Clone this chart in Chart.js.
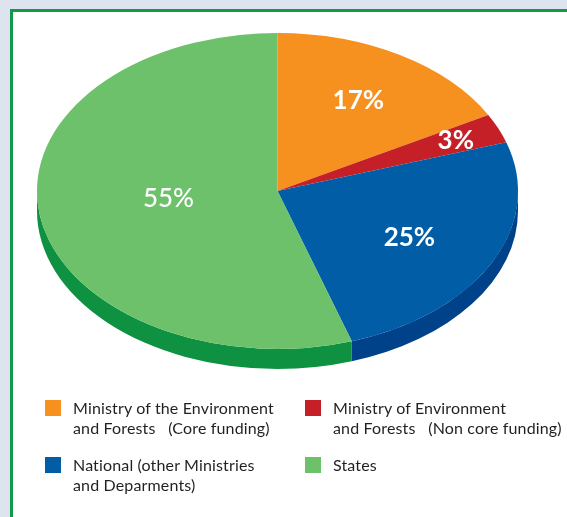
<!DOCTYPE html>
<html>
<head>
<meta charset="utf-8">
<script src="https://cdn.jsdelivr.net/npm/chart.js@4"></script>
<style>
  html, body { margin: 0; padding: 0; }
  body {
    width: 567px; height: 517px; position: relative; overflow: hidden;
    background: #dee4ef; font-family: Lato, "Open Sans", sans-serif;
  }
  #frame {
    position: absolute; left: 10px; top: 9px; width: 620px; height: 620px;
    border: 3px solid #12994a; background: #fff;
  }
  #chart { position: absolute; left: 0; top: 0; }
  .item { position: absolute; width: 260px; height: 44px; }
  .box { position: absolute; left: 0; top: 2px; width: 16px; height: 16px; }
  .txt {
    position: absolute; left: 28px; top: 0; font-size: 16px; line-height: 20px;
    color: #231f20; white-space: nowrap; letter-spacing: 0.15px;
  }
</style>
</head>
<body>
<div id="frame"></div>
<canvas id="chart" width="567" height="517"></canvas>
<div id="legend"></div>

<script>
// data
const categories = [
    ['Ministry of the Environment', 'and Forests\u00a0\u00a0 (Core funding)'],
    ['Ministry of Environment', 'and Forests\u00a0\u00a0 (Non core funding)'],
    ['National (other Ministries', 'and Deparments)'],
    ['States'],
];
const shares = [17, 3, 25, 55];

// styles
const topColors = ['#f6901f', '#c51f27', '#015da5', '#6cc16a'];
const sideColors = ['#c8701a', '#95181e', '#00428a', '#0e9242'];
const labelRadius = [0.67, 0.81, 0.62, 0.455];   // fraction of radius for % labels
const labelShift = [-0.5, -0.4, 0.8, 3.8];        // degrees, nudges label angle
const labelWeight = ['bold', 'bold', 'bold', '500'];
const tilt = 158 / 240.5;
const depth = 20;

const pie3d = {
    id: 'pie3d',
    beforeDatasetsDraw(chart) {
        const ctx = chart.ctx;
        const arcs = chart.getDatasetMeta(0).data;
        const cx = arcs[0].x, cy = arcs[0].y;
        ctx.save();
        ctx.translate(cx, cy);
        ctx.scale(1, tilt);
        ctx.translate(-cx, -cy);
        // side wall, only the front half (0..PI) shows
        const d = depth / tilt;
        arcs.forEach((arc, i) => {
            const a = Math.max(arc.startAngle, 0);
            const b = Math.min(arc.endAngle, Math.PI);
            if (b <= a) return;
            ctx.beginPath();
            ctx.arc(cx, cy, arc.outerRadius, a, b);
            ctx.arc(cx, cy + d, arc.outerRadius, b, a, true);
            ctx.closePath();
            ctx.fillStyle = sideColors[i];
            ctx.fill();
        });
    },
    afterDatasetsDraw(chart) {
        const ctx = chart.ctx;
        ctx.restore();
        const arcs = chart.getDatasetMeta(0).data;
        ctx.save();
        ctx.fillStyle = '#ffffff';
        ctx.textAlign = 'center';
        ctx.textBaseline = 'alphabetic';
        arcs.forEach((arc, i) => {
            const mid = (arc.startAngle + arc.endAngle) / 2 + labelShift[i] * Math.PI / 180;
            const r = arc.outerRadius * labelRadius[i];
            const px = arc.x + Math.cos(mid) * r;
            const py = arc.y + Math.sin(mid) * r * tilt;
            ctx.font = labelWeight[i] + ' 26px Lato';
            ctx.fillText(shares[i] + '%', px, py + 9.5);
        });
        ctx.restore();
    }
};

new Chart(document.getElementById('chart'), {
    type: 'pie',
    data: {
        labels: categories,
        datasets: [{
            data: shares,
            backgroundColor: topColors,
            borderWidth: 0,
            radius: 240.5,
            clip: false,
        }],
    },
    options: {
        responsive: false,
        animation: false,
        layout: { padding: { top: 0, left: 0, right: 12, bottom: 135 } },
        plugins: {
            legend: { display: false },
            tooltip: { enabled: false },
        },
    },
    plugins: [pie3d],
});

// legend, two columns
const legend = document.getElementById('legend');
categories.forEach((lines, i) => {
    const item = document.createElement('div');
    item.className = 'item';
    item.style.left = (45 + (i % 2) * 260) + 'px';
    item.style.top = (398 + Math.floor(i / 2) * 57) + 'px';
    item.innerHTML = '<div class="box" style="background:' + topColors[i] + '"></div>' +
        '<div class="txt">' + lines.join('<br>') + '</div>';
    legend.appendChild(item);
});
</script>
</body>
</html>
